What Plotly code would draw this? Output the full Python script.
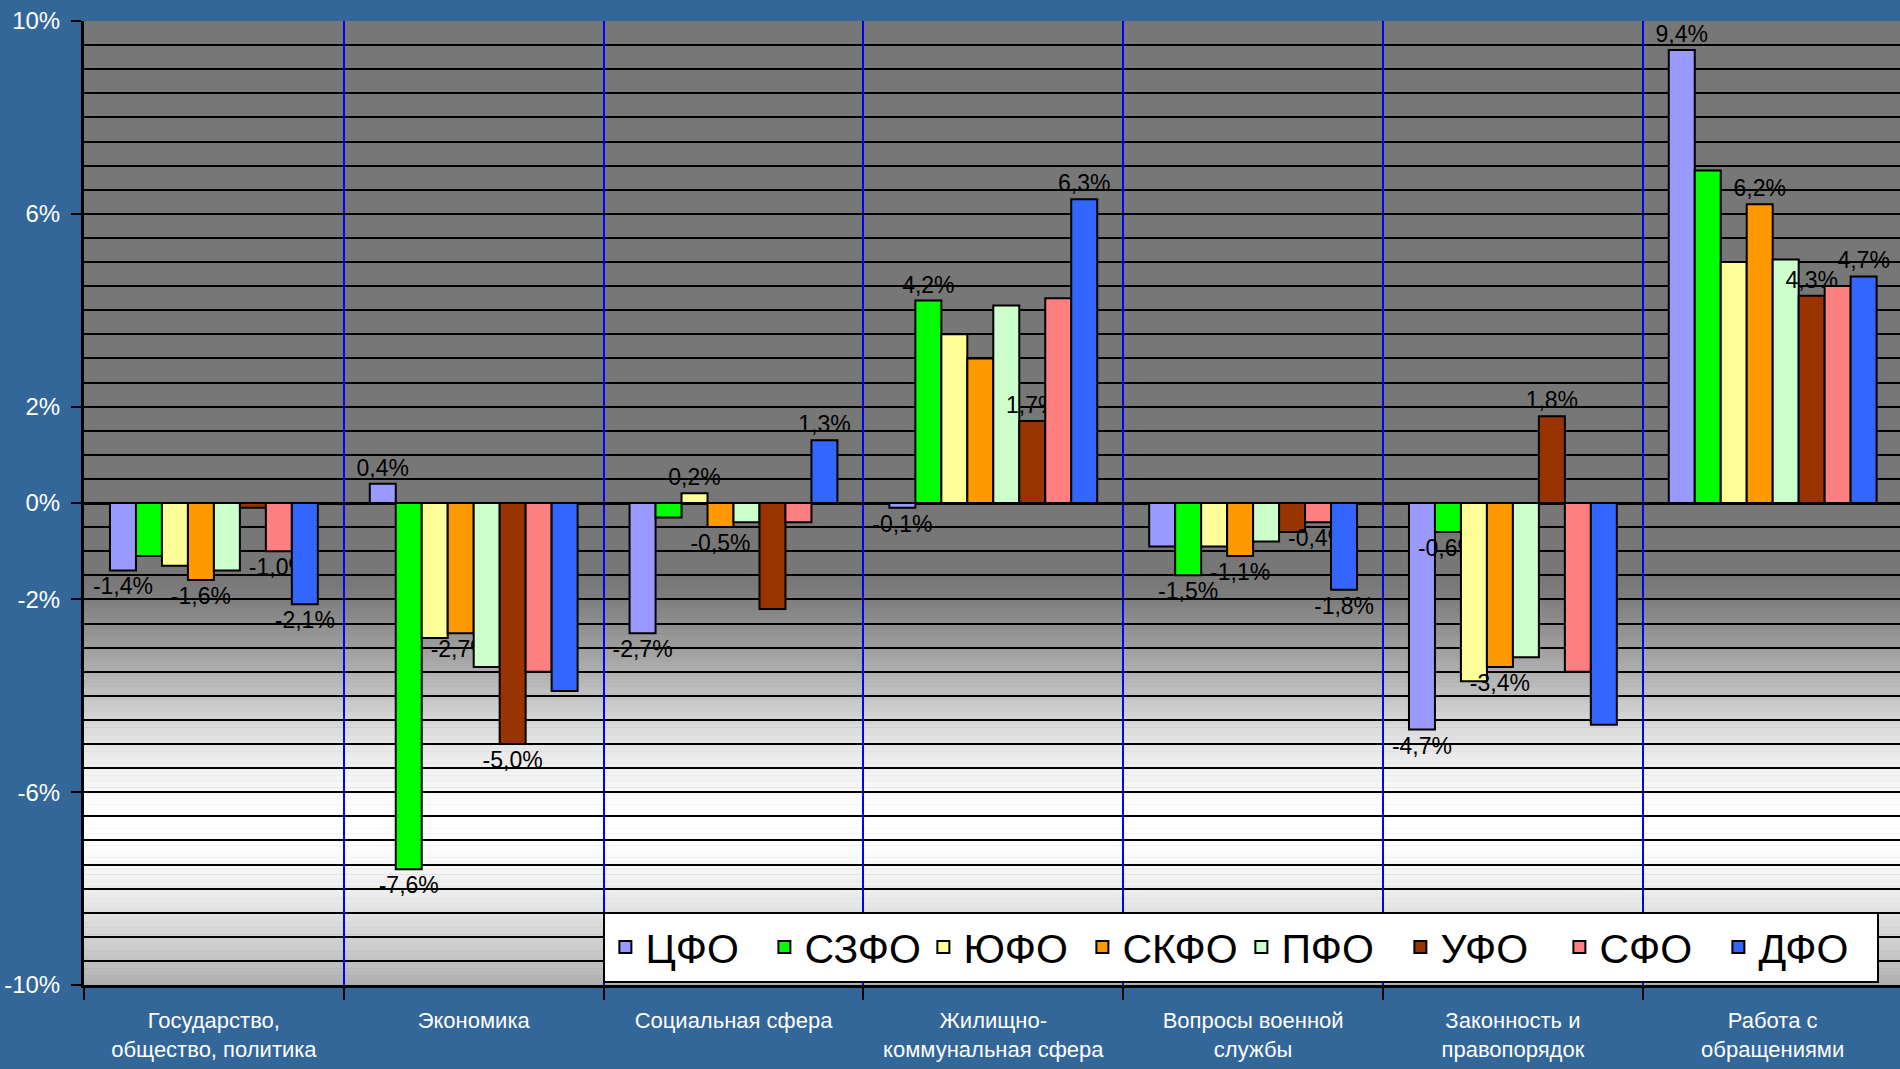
import plotly.graph_objects as go

categories = ["Государство,<br>общество, политика", "Экономика", "Социальная сфера",
              "Жилищно-<br>коммунальная сфера", "Вопросы военной<br>службы",
              "Законность и<br>правопорядок", "Работа с<br>обращениями"]

series_names = ["ЦФО", "СЗФО", "ЮФО", "СКФО", "ПФО", "УФО", "СФО", "ДФО"]

cfo  = [-1.4,  0.4, -2.7, -0.1, -0.9, -4.7, 9.4]
szfo = [-1.1, -7.6, -0.3,  4.2, -1.5, -0.6, 6.9]
yufo = [-1.3, -2.8,  0.2,  3.5, -0.9, -3.7, 5.0]
skfo = [-1.6, -2.7, -0.5,  3.0, -1.1, -3.4, 6.2]
pfo  = [-1.4, -3.4, -0.4,  4.1, -0.8, -3.2, 5.05]
ufo  = [-0.1, -5.0, -2.2,  1.7, -0.6,  1.8, 4.3]
sfo  = [-1.0, -3.5, -0.4,  4.25, -0.4, -3.5, 4.5]
dfo  = [-2.1, -3.9,  1.3,  6.3, -1.8, -4.6, 4.7]

cfo_lbl  = [1, 1, 1, 1, 0, 1, 1]
szfo_lbl = [0, 1, 0, 1, 1, 1, 0]
yufo_lbl = [0, 0, 1, 0, 0, 0, 0]
skfo_lbl = [1, 1, 1, 0, 1, 1, 1]
pfo_lbl  = [0, 0, 0, 0, 0, 0, 0]
ufo_lbl  = [0, 1, 0, 1, 0, 1, 1]
sfo_lbl  = [1, 0, 0, 0, 1, 0, 0]
dfo_lbl  = [1, 0, 1, 1, 1, 0, 1]

y_ticks = [-10, -6, -2, 0, 2, 6, 10]

series_values = [cfo, szfo, yufo, skfo, pfo, ufo, sfo, dfo]
series_labels = [cfo_lbl, szfo_lbl, yufo_lbl, skfo_lbl, pfo_lbl, ufo_lbl, sfo_lbl, dfo_lbl]
colors = ["#9999FF", "#00FF00", "#FFFF99", "#FF9900", "#CCFFCC", "#993300", "#FF8080", "#3366FF"]

FONT = "Liberation Sans, Arial, sans-serif"


def fmt(v):
    return f"{v:.1f}".replace(".", ",") + "%"


fig = go.Figure()
for name, vals, lbls, col in zip(series_names, series_values, series_labels, colors):
    fig.add_trace(go.Bar(
        name=name, x=categories, y=vals,
        marker=dict(color=col, line=dict(color="black", width=2)),
        text=[fmt(v) if f else "" for v, f in zip(vals, lbls)],
        textposition="outside", constraintext="none", cliponaxis=False,
        textfont=dict(family=FONT, size=23, color="black"),
    ))

# background gradient bands (lower part of plot area)
stops = [(-1.5, 119), (-2.0, 126), (-2.5, 142), (-3.0, 158), (-3.5, 175), (-4.0, 195),
         (-4.5, 214), (-5.0, 229), (-5.5, 240), (-6.0, 249), (-6.5, 255), (-7.0, 255),
         (-7.5, 248), (-8.0, 238), (-8.5, 226), (-9.0, 212), (-9.5, 194), (-10.0, 176)]


def gray_at(v):
    for (a, ga), (b, gb) in zip(stops[:-1], stops[1:]):
        if b <= v <= a:
            t = (a - v) / (a - b)
            return int(round(ga + (gb - ga) * t))
    return 119


shapes = []
step = 0.05
n = int(round((10 - 1.5) / step))
for i in range(n):
    top = -1.5 - i * step
    bot = top - step - 0.01
    g = gray_at(top - step / 2)
    shapes.append(dict(type="rect", xref="paper", yref="y", x0=0, x1=1, y0=bot, y1=top,
                       fillcolor=f"rgb({g},{g},{g})", line=dict(width=0), layer="below"))

fig.update_layout(
    width=1900, height=1069,
    paper_bgcolor="#336699", plot_bgcolor="#777777",
    margin=dict(l=84, r=0, t=21, b=84),
    barmode="group", bargap=0.2, bargroupgap=0,
    shapes=shapes,
    font=dict(family=FONT),
    showlegend=True,
    legend=dict(orientation="h", x=0.286, y=0.076, xanchor="left", yanchor="top",
                bgcolor="white", bordercolor="black", borderwidth=2,
                font=dict(family=FONT, size=41, color="black"),
                entrywidth=114, entrywidthmode="pixels"),
    xaxis=dict(type="category", tickson="boundaries", showgrid=True, gridcolor="#0000FF",
               gridwidth=2, showline=True, linecolor="black", linewidth=3,
               ticks="outside", ticklen=12, tickwidth=2, tickcolor="black",
               tickangle=0, automargin=False,
               tickfont=dict(family=FONT, size=22, color="white"),
               ticklabelstandoff=14, range=[-0.5, 6.49]),
    yaxis=dict(range=[-10, 10], tickvals=y_ticks, ticktext=[f"{v}%" for v in y_ticks],
               showgrid=True, gridcolor="black", gridwidth=2, automargin=False,
               minor=dict(tick0=0, dtick=0.5, showgrid=True, gridcolor="black", gridwidth=2, ticklen=0),
               zeroline=True, zerolinecolor="black", zerolinewidth=3,
               showline=True, linecolor="black", linewidth=3,
               ticks="outside", ticklen=10, tickwidth=2, tickcolor="black",
               ticklabelstandoff=6,
               tickfont=dict(family=FONT, size=24, color="white")),
)

fig.write_html("out.html", config={"displayModeBar": False},
               post_script="document.body.style.margin='0';document.body.style.overflow='hidden';")
